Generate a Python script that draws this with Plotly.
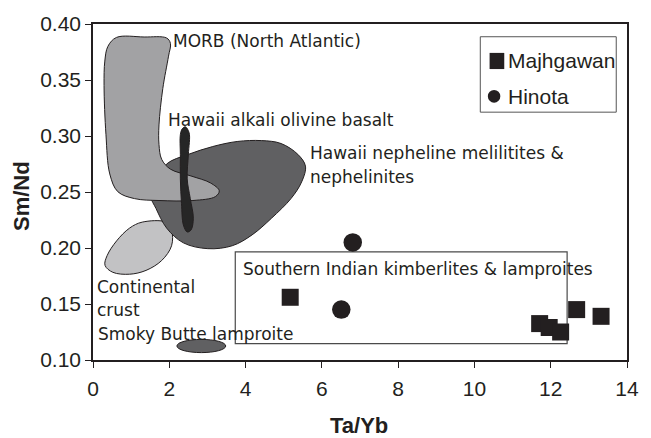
import plotly.graph_objects as go

# --- Sample data: Ta/Yb vs Sm/Nd ---
majhgawan_ta_yb = [5.17, 11.71, 11.96, 12.26, 12.68, 13.32]
majhgawan_sm_nd = [0.156, 0.1325, 0.129, 0.125, 0.145, 0.139]

hinota_ta_yb = [6.81, 6.51]
hinota_sm_nd = [0.205, 0.145]

# --- Reference fields (outlines in Ta/Yb, Sm/Nd units) ---
morb_x = [0.615, 1.34, 1.93, 2.03, 1.98, 1.83, 1.73, 1.73, 1.80, 2.03, 2.57, 3.08, 3.31,
          3.21, 2.62, 1.73, 1.09, 0.65, 0.44, 0.34, 0.29, 0.31, 0.39]
morb_y = [0.388, 0.3884, 0.3875, 0.3827, 0.3713, 0.3424, 0.3099, 0.2924, 0.2792, 0.2704,
          0.2643, 0.2581, 0.2511, 0.2459, 0.2424, 0.2424, 0.2441, 0.2503, 0.2661, 0.3011,
          0.345, 0.3669, 0.38]

neph_x = [1.93, 2.50, 3.14, 3.78, 4.42, 4.93, 5.37, 5.57, 5.47, 5.19, 4.68, 4.17, 3.65,
          3.01, 2.37, 1.93, 1.65, 1.52, 1.67]
neph_y = [0.2750, 0.2836, 0.2906, 0.2951, 0.2959, 0.2933, 0.2836, 0.2731, 0.2590, 0.2441,
          0.2266, 0.2117, 0.2020, 0.1994, 0.2046, 0.2178, 0.2354, 0.2459, 0.2590]

crust_x = [0.315, 0.37, 0.62, 0.96, 1.29, 1.91, 2.06, 2.06, 1.80, 1.39, 0.96, 0.52]
crust_y = [0.1845, 0.1932, 0.2064, 0.2178, 0.2231, 0.2231, 0.2161, 0.2020, 0.1888,
           0.1800, 0.1766, 0.1783]

aob_x = [2.42, 2.52, 2.50, 2.47, 2.55, 2.63, 2.57, 2.47, 2.37, 2.32, 2.29, 2.29, 2.29, 2.34]
aob_y = [0.3082, 0.3029, 0.2836, 0.2617, 0.2442, 0.2266, 0.2161, 0.2143, 0.2205, 0.2398,
         0.2617, 0.2836, 0.3012, 0.3064]

# Smoky Butte lamproite field (ellipse bounds)
smoky_x = [2.20, 3.48]
smoky_y = [0.1066, 0.1184]

# Southern Indian kimberlites & lamproites field (box bounds)
sik_x = [3.73, 12.43]
sik_y = [0.1146, 0.1965]

x_ticks = [0, 2, 4, 6, 8, 10, 12, 14]
y_ticks = [0.10, 0.15, 0.20, 0.25, 0.30, 0.35, 0.40]

INK = "#231f20"
LABEL_FONT = "DejaVu Sans"
AXIS_FONT = "Liberation Sans, Arial, sans-serif"

# plot area geometry (pixels)
W, H = 651, 438
ML, MR, MT, MB = 93, 12, 17, 78
PW, PH = W - ML - MR, H - MT - MB


def px(xp):
    return (xp - ML) / PW


def py(yp):
    return (H - MB - yp) / PH


def closed(xs, ys):
    return xs + xs[:1], ys + ys[:1]


fig = go.Figure()


def field(xs, ys, fill):
    cx, cy = closed(xs, ys)
    fig.add_trace(go.Scatter(
        x=cx, y=cy, mode="lines", fill="toself", fillcolor=fill,
        line=dict(color=INK, width=1, shape="spline", smoothing=1.0),
        hoverinfo="skip", showlegend=False))


field(crust_x, crust_y, "#c2c2c4")
field(neph_x, neph_y, "#606062")
field(morb_x, morb_y, "#a2a2a4")
field(aob_x, aob_y, "#262626")

fig.add_trace(go.Scatter(
    x=majhgawan_ta_yb, y=majhgawan_sm_nd, mode="markers", name="Majhgawan",
    marker=dict(symbol="square", size=17, color=INK, line=dict(width=0)),
    showlegend=False))
fig.add_trace(go.Scatter(
    x=hinota_ta_yb, y=hinota_sm_nd, mode="markers", name="Hinota",
    marker=dict(symbol="circle", size=18.5, color=INK, line=dict(width=0)),
    showlegend=False))

shapes = [
    dict(type="circle", xref="x", yref="y", x0=smoky_x[0], x1=smoky_x[1],
         y0=smoky_y[0], y1=smoky_y[1], fillcolor="#606062",
         line=dict(color=INK, width=1), layer="above"),
    dict(type="rect", xref="x", yref="y", x0=sik_x[0], x1=sik_x[1],
         y0=sik_y[0], y1=sik_y[1], fillcolor="rgba(0,0,0,0)",
         line=dict(color="#4a4a4a", width=1.2), layer="below"),
    # legend box and keys
    dict(type="rect", xref="paper", yref="paper", x0=px(489), x1=px(628),
         y0=py(107), y1=py(30), line=dict(color="#555555", width=1),
         fillcolor="white", layer="above"),
    dict(type="rect", xref="paper", yref="paper", x0=px(498.5), x1=px(513.5),
         y0=py(63), y1=py(46.5), line=dict(width=0), fillcolor=INK, layer="above"),
    dict(type="circle", xref="paper", yref="paper", x0=px(496.7), x1=px(509.5),
         y0=py(97.3), y1=py(84.3), line=dict(width=0), fillcolor=INK, layer="above"),
]

lab = dict(color=INK, family=LABEL_FONT, size=17)
field_labels = [
    ("MORB (North Atlantic)", 2.07, 0.3845),
    ("Hawaii alkali olivine basalt", 1.94, 0.3143),
    ("Hawaii nepheline melilitites &", 5.66, 0.2851),
    ("nephelinites", 5.66, 0.2632),
    ("Southern Indian kimberlites & lamproites", 3.91, 0.1812),
    ("Continental", 0.085, 0.1652),
    ("crust", 0.085, 0.1447),
    ("Smoky Butte lamproite", 0.10, 0.1228),
]
annotations = [
    dict(text=t, x=x, y=y, xref="x", yref="y", xanchor="left", yanchor="middle",
         showarrow=False, font=lab, borderpad=0)
    for t, x, y in field_labels
]

leg_font = dict(color=INK, family=AXIS_FONT, size=21)
annotations += [
    dict(text="Majhgawan", x=px(516), y=py(54), xref="paper", yref="paper",
         xanchor="left", yanchor="middle", showarrow=False, font=leg_font, borderpad=0),
    dict(text="Hinota", x=px(516), y=py(91), xref="paper", yref="paper",
         xanchor="left", yanchor="middle", showarrow=False, font=leg_font, borderpad=0),
    dict(text="<b>Ta/Yb</b>", x=px(365), y=py(427), xref="paper", yref="paper",
         xanchor="center", yanchor="middle", showarrow=False,
         font=dict(color=INK, family=AXIS_FONT, size=22)),
    dict(text="<b>Sm/Nd</b>", x=px(20), y=py(193), xref="paper", yref="paper",
         xanchor="center", yanchor="middle", showarrow=False, textangle=-90,
         font=dict(color=INK, family=AXIS_FONT, size=22)),
]

axis_common = dict(
    showline=True, linecolor=INK, linewidth=1.5, mirror=True,
    ticks="outside", ticklen=6, tickwidth=1.2, tickcolor=INK,
    showgrid=False, zeroline=False,
    tickfont=dict(color=INK, family=AXIS_FONT, size=21),
)

fig.update_layout(
    width=W, height=H,
    margin=dict(l=ML, r=MR, t=MT, b=MB),
    paper_bgcolor="white", plot_bgcolor="white",
    xaxis=dict(range=[0, 14], tickvals=x_ticks, ticktext=[str(v) for v in x_ticks],
               ticklabelstandoff=3, **axis_common),
    yaxis=dict(range=[0.10, 0.40], tickvals=y_ticks,
               ticktext=[f"{v:.2f}" for v in y_ticks], **axis_common),
    shapes=shapes,
    annotations=annotations,
    showlegend=False,
)

fig.write_html("out.html")
